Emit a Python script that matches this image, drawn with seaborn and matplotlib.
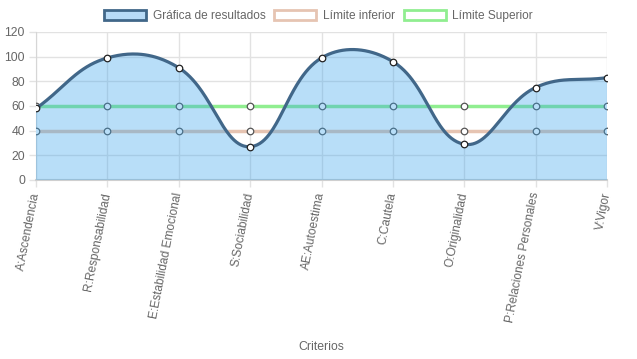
import numpy as np
import pandas as pd
import matplotlib
matplotlib.use("Agg")
import matplotlib.pyplot as plt
import seaborn as sns
from matplotlib.patches import Patch

# Data
criterios = ["A:Ascendencia", "R:Responsabilidad", "E:Estabilidad Emocional",
             "S:Sociabilidad", "AE:Autoestima", "C:Cautela", "O:Originalidad",
             "P:Relaciones Personales", "V:Vigor"]
resultados = [58, 99, 91, 27, 99, 96, 29, 75, 83]
limite_inferior = [40, 40, 40, 40, 40, 40, 40, 40, 40]
limite_superior = [60, 60, 60, 60, 60, 60, 60, 60, 60]

df = pd.DataFrame({"x": range(len(criterios)), "res": resultados,
                   "inf": limite_inferior, "sup": limite_superior})

sns.set_style("white")
plt.rcParams["font.family"] = ["Liberation Sans", "DejaVu Sans"]

fig = plt.figure(figsize=(6.37, 3.59), dpi=100)
ax = fig.add_axes([36/637, 1-180/359, 571/637, 148/359])

blue_fill = (54/255, 162/255, 235/255, 0.35)
line_col = "#416789"
inf_col = "#e6c4b2"
sup_col = "#90ee90"
grey_txt = "#666666"


def spline(xs, ys, tension=0.4, sx=71.375, sy=148/120):
    # chart.js style bezier, computed in pixel space
    px = np.array(xs, float) * sx
    py = np.array(ys, float) * sy
    n = len(px)
    cp_prev = np.zeros((n, 2))
    cp_next = np.zeros((n, 2))
    for i in range(n):
        p0 = np.array([px[max(i-1, 0)], py[max(i-1, 0)]])
        p1 = np.array([px[i], py[i]])
        p2 = np.array([px[min(i+1, n-1)], py[min(i+1, n-1)]])
        d01 = np.hypot(*(p1 - p0))
        d12 = np.hypot(*(p2 - p1))
        tot = d01 + d12
        s01 = d01 / tot if tot else 0
        s12 = d12 / tot if tot else 0
        cp_prev[i] = p1 - tension * s01 * (p2 - p0)
        cp_next[i] = p1 + tension * s12 * (p2 - p0)
    t = np.linspace(0, 1, 60)[:, None]
    segs = []
    for i in range(n - 1):
        a = np.array([px[i], py[i]])
        b = cp_next[i]
        c = cp_prev[i+1]
        d = np.array([px[i+1], py[i+1]])
        seg = (1-t)**3*a + 3*(1-t)**2*t*b + 3*(1-t)*t**2*c + t**3*d
        segs.append(seg)
    pts = np.vstack(segs)
    return pts[:, 0] / sx, pts[:, 1] / sy


# limit lines (under the fill)
sns.lineplot(data=df, x="x", y="inf", color=inf_col, lw=2.5, ax=ax, zorder=2)
sns.lineplot(data=df, x="x", y="sup", color=sup_col, lw=2.5, ax=ax, zorder=2)
ax.scatter(df["x"], df["inf"], s=22, facecolor="white", edgecolor="#555555", lw=0.9, zorder=3)
ax.scatter(df["x"], df["sup"], s=22, facecolor="white", edgecolor="#555555", lw=0.9, zorder=3)

cx, cy = spline(df["x"], df["res"])
ax.fill(np.r_[cx, cx[-1], cx[0]], np.r_[cy, 0, 0], color=blue_fill, lw=0, zorder=4)
ax.plot(cx, cy, color=line_col, lw=2.3, zorder=5, solid_capstyle="round")
ax.scatter(df["x"], df["res"], s=22, facecolor="white", edgecolor="#222222", lw=0.9, zorder=6)

ax.set_xlim(0, len(criterios) - 1)
ax.set_ylim(0, 120)
ax.set_yticks(range(0, 121, 20))
ax.set_xticks(range(len(criterios)))
ax.set_xticklabels(criterios, rotation=79, rotation_mode="anchor", ha="right", va="center")
ax.set_xlabel("")
ax.set_ylabel("")
ax.grid(True, color="#e2e2e2", lw=1, zorder=0)
ax.set_axisbelow(True)
for s in ["top", "right"]:
    ax.spines[s].set_visible(False)
ax.spines["left"].set_color("#d6d6d6")
ax.spines["bottom"].set_color("#cfcfcf")
ax.spines["bottom"].set_linewidth(1.5)
ax.tick_params(axis="both", colors="#e2e2e2", labelcolor=grey_txt, labelsize=8.8,
               length=5, width=1, pad=3, bottom=True, left=True)
ax.tick_params(axis="x", pad=4, labelsize=8.6)

fig.text(321.5/637, 1-347/359, "Criterios", ha="center", va="center", color=grey_txt, fontsize=8.8)

handles = [Patch(facecolor=(0.72, 0.86, 0.97), edgecolor=line_col, lw=2),
           Patch(facecolor="white", edgecolor=inf_col, lw=2),
           Patch(facecolor="white", edgecolor=sup_col, lw=2)]
fig.legend(handles, ["Gráfica de resultados", "Límite inferior", "Límite Superior"],
           loc="center", bbox_to_anchor=(0.5, 1-16/359), ncol=3, frameon=False,
           fontsize=8.6, labelcolor=grey_txt, handlelength=3.5, handleheight=0.9,
           handletextpad=0.55, columnspacing=0.75)

fig.savefig("out.png", dpi=100)
